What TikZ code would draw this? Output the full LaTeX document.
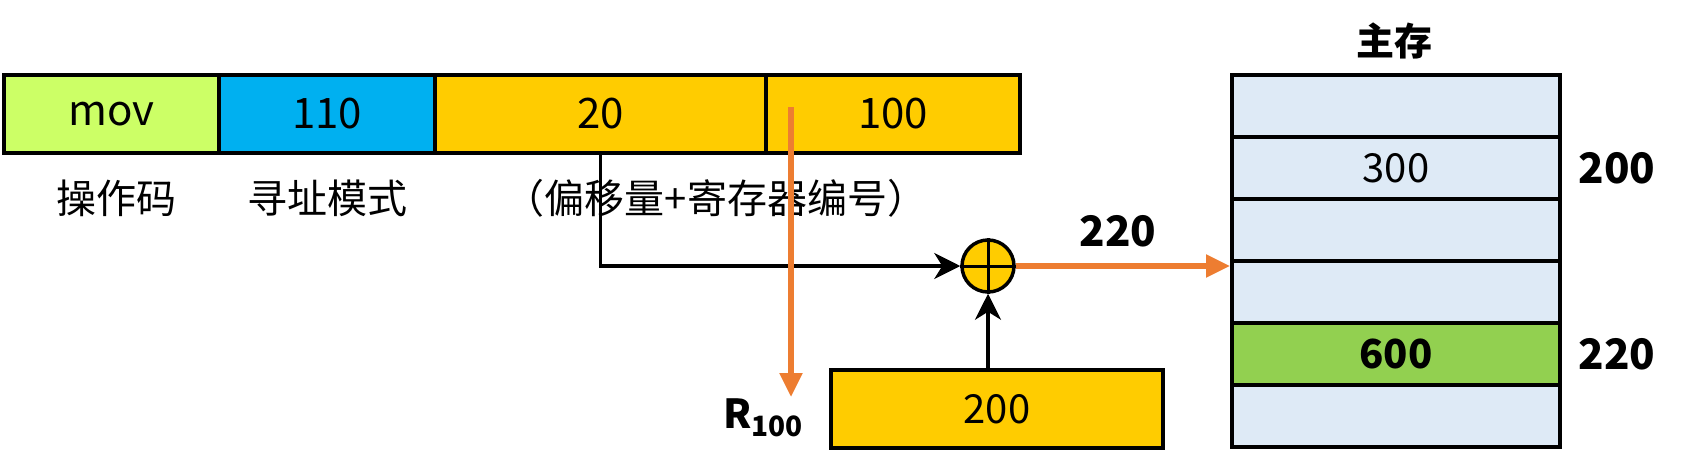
\documentclass[tikz,border=0pt]{standalone}
\usepackage{fontspec}
\setmainfont{Noto Sans CJK SC}
\usetikzlibrary{arrows.meta,calc}
\definecolor{opgreen}{HTML}{CCFF66}
\definecolor{modeblue}{HTML}{00B0F0}
\definecolor{fieldgold}{HTML}{FFCC00}
\definecolor{pathorange}{HTML}{ED7D31}
\definecolor{memblue}{HTML}{DEEAF6}
\definecolor{hitgreen}{HTML}{92D050}
\tikzset{
  cell/.style={draw, line width=4pt, minimum height=78pt, inner sep=0pt, anchor=north west, font=\fontsize{42}{48}\selectfont},
  memrow/.style={draw, line width=4pt, minimum width=328pt, minimum height=62pt, inner sep=0pt, anchor=north west},
  blackarrow/.style={line width=3.5pt, -{Stealth[length=26pt,width=26pt,inset=8pt]}},
  orangearrow/.style={draw=pathorange, line width=5.5pt, -{Triangle[length=24pt,width=22pt]}},
}

\begin{document}
\begin{tikzpicture}[x=1pt, y=-1pt, font=\fontsize{40}{48}\selectfont]
    \useasboundingbox (0,0) rectangle (1681,466);

    % instruction fields
    \node[cell, fill=opgreen, minimum width=215pt] (op) at (2,73) {mov};
    \node[cell, fill=modeblue, minimum width=216pt] (mode) at (217,73) {110};
    \node[cell, fill=fieldgold, minimum width=331pt] (disp) at (433,73) {20};
    \node[cell, fill=fieldgold, minimum width=254pt] (reg) at (764,73) {100};

    \node (oplabel) at (116,198) {操作码};
    \node (modelabel) at (327,198) {寻址模式};
    \node (fieldlabel) at (716,198) {（偏移量+寄存器编号）};

    % adder and base register
    \node[circle, draw, fill=fieldgold, line width=3.5pt, minimum size=52pt, inner sep=0pt] (adder) at (988,266) {};
    \draw[line width=3pt] (adder.north) -- (adder.south) (adder.west) -- (adder.east);
    \node[draw, fill=fieldgold, line width=4pt, minimum width=332pt, minimum height=78pt, inner sep=0pt] (base) at (997,409) {200};

    \draw[blackarrow] (disp.south) -- (disp.south |- adder.west) -- (adder.west);
    \draw[blackarrow] (adder |- base.north) -- (adder.south);

    % register number path
    \coordinate (rtop) at (791,107);
    \coordinate (rend) at (791,397);
    \draw[orangearrow] (rtop) -- (rend);
    \node[font=\fontsize{40}{48}\selectfont\bfseries] (rlabel) at (763,418) {R\raisebox{-0.35ex}{\fontsize{28}{28}\selectfont 100}};

    % main memory
    \node[font=\fontsize{38}{46}\selectfont\bfseries] (memtitle) at (1394,41) {主存};
    \foreach \i/\c/\t in {0/memblue/, 1/memblue/300, 2/memblue/, 3/memblue/, 4/hitgreen/{\bfseries 600}, 5/memblue/}
        \node[memrow, fill=\c] (m\i) at (1230,{73+62*\i}) {\t};

    \node[font=\fontsize{42}{48}\selectfont\bfseries] (addr200) at (1617,168) {200};
    \node[font=\fontsize{42}{48}\selectfont\bfseries] (addr220) at (1617,354) {220};

    \draw[orangearrow] (adder.east) -- (adder.east -| m0.west);
    \node[font=\fontsize{42}{48}\selectfont\bfseries] (sumlabel) at (1118,231) {220};
\end{tikzpicture}
\end{document}
